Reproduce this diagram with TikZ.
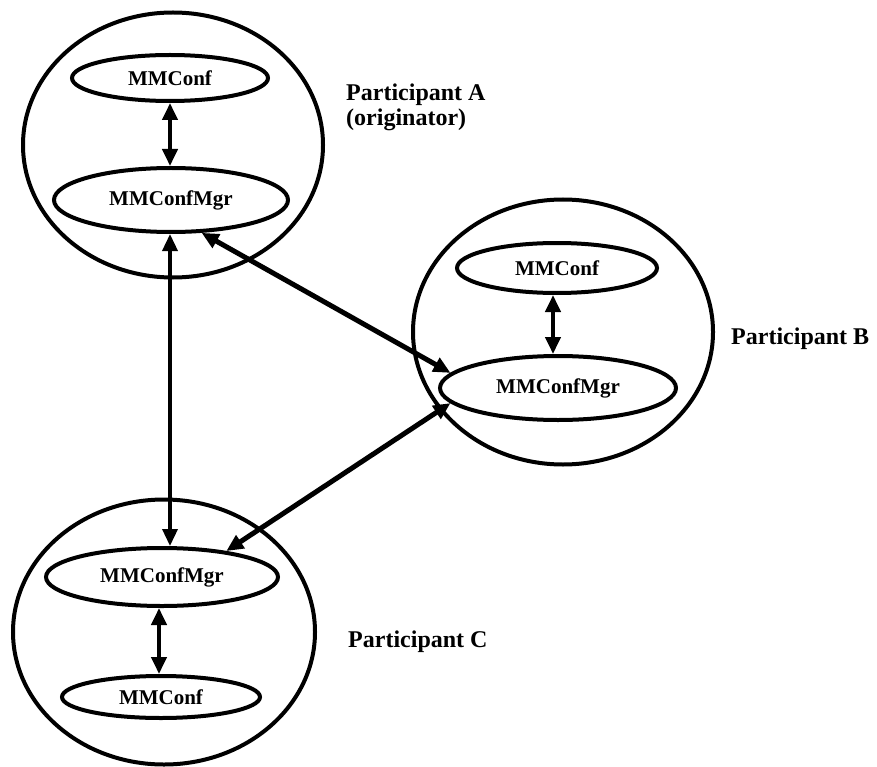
\documentclass[tikz,border=0pt]{standalone}
\usepackage{fontspec}
\setmainfont{Liberation Serif}
\usetikzlibrary{arrows.meta,shapes.geometric}
\begin{document}
\begin{tikzpicture}[x=1pt,y=-1pt,
  participant/.style={ellipse, draw, line width=4pt, inner sep=0pt,
    minimum width=300pt, minimum height=265pt},
  component/.style={ellipse, draw, line width=4pt, inner sep=0pt,
    font=\bfseries\fontsize{21}{23}\selectfont},
  link/.style={line width=4pt,
    {Triangle[length=17pt,width=15pt]}-{Triangle[length=17pt,width=15pt]}},
  caption/.style={font=\bfseries\fontsize{24}{25}\selectfont, inner sep=0pt,
    align=left}]
\useasboundingbox (0,0) rectangle (877,767);

% participant A (originator)
\node[participant] (circA) at (173,145) {};
\node[component, minimum width=196pt, minimum height=46pt] (Aconf) at (170,78) {MMConf};
\node[component, minimum width=234pt, minimum height=64pt] (Amgr) at (171,200) {MMConfMgr};

% participant B
\node[participant] (circB) at (563,332) {};
\node[component, minimum width=200pt, minimum height=50pt] (Bconf) at (557,268) {MMConf};
\node[component, minimum width=236pt, minimum height=64pt] (Bmgr) at (558,388) {MMConfMgr};

% participant C
\node[participant, minimum width=302pt] (circC) at (164,632) {};
\node[component, minimum width=232pt, minimum height=58pt] (Cmgr) at (162,577) {MMConfMgr};
\node[component, minimum width=198pt, minimum height=42pt] (Cconf) at (161,697) {MMConf};

% captions
\node[caption, anchor=north west] (labA) at (346,84) {Participant A\\(originator)};
\node[caption, anchor=base west] (labB) at (731,344) {Participant B};
\node[caption, anchor=base west] (labC) at (348,647) {Participant C};

% links inside each participant
\draw[link] (Aconf.south) -- (Aconf.south |- Amgr.north);
\draw[link] (Bconf.south -| 553,0) -- (Bmgr.north -| 553,0);
\draw[link] (Cmgr.south -| 159,0) -- (Cconf.north -| 159,0);

% links between participants
\draw[link, line width=3.5pt] (Amgr.south -| 170,0) -- (Cmgr.north -| 170,0);
\draw[link, line width=5pt] (Amgr.-47) -- (Bmgr.172);
\draw[link, line width=5pt] (Bmgr.188) -- (Cmgr.22);
\end{tikzpicture}
\end{document}
